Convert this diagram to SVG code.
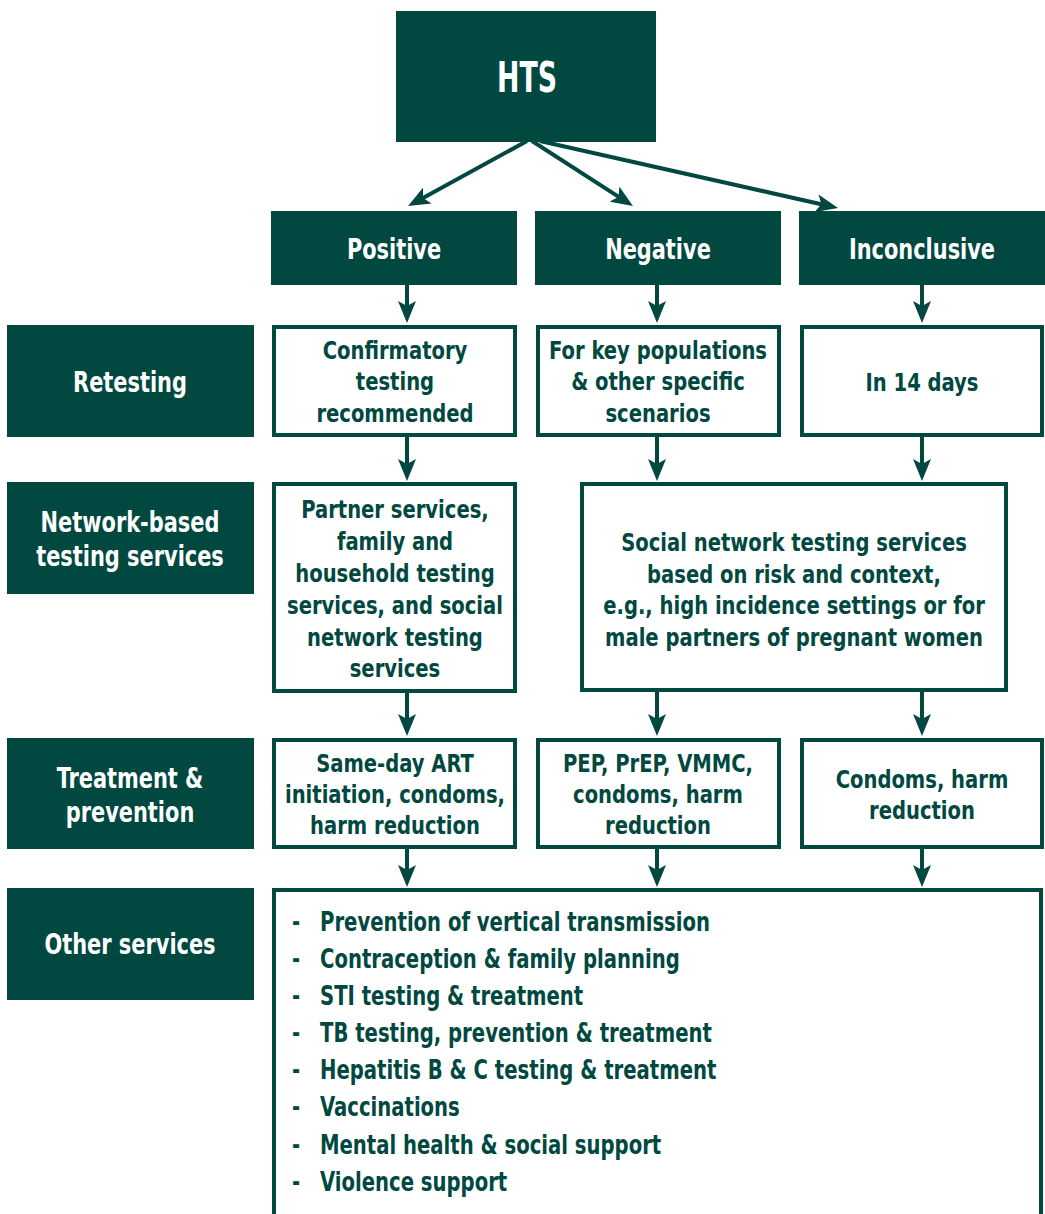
<svg xmlns="http://www.w3.org/2000/svg" width="1045" height="1214" viewBox="0 0 1045 1214">
<defs>
<style>
.d{fill:#004840}
.w{fill:#ffffff;stroke:#004840;stroke-width:4}
text{font-family:"DejaVu Sans Condensed","DejaVu Sans","Liberation Sans",sans-serif;font-stretch:condensed;font-weight:bold;font-size:25px;transform-box:fill-box;transform-origin:center;transform:scaleX(0.87)}
.tw{fill:#ffffff;text-anchor:middle}
.tg{fill:#004840;text-anchor:middle}
.hd{font-size:28px;transform:scaleX(0.83)}
.lb{font-size:28px;transform:scaleX(0.83)}
.hts{font-size:42px;transform:scaleX(0.71)}
.tl text{fill:#004840;font-size:26px;transform-origin:left center;transform:scaleX(0.84)}
.c{stroke:#004840;stroke-width:4;fill:none}
</style>
<marker id="av" markerWidth="22" markerHeight="18" refX="6" refY="9" orient="auto" markerUnits="userSpaceOnUse" viewBox="0 0 22 18"><path d="M0,0 L22,9 L0,18 L5,9 z" fill="#004840"/></marker>
</defs>
<rect width="1045" height="1214" fill="#ffffff"/>
<g id="connectors">
<line class="c" x1="527" y1="141" x2="422.1" y2="198.4" marker-end="url(#av)"/>
<line class="c" x1="532" y1="141" x2="619.5" y2="197.4" marker-end="url(#av)"/>
<line class="c" x1="540" y1="141" x2="822.4" y2="204.5" marker-end="url(#av)"/>
<line class="c" x1="407" y1="285" x2="407" y2="307" marker-end="url(#av)"/>
<line class="c" x1="657" y1="285" x2="657" y2="307" marker-end="url(#av)"/>
<line class="c" x1="922" y1="285" x2="922" y2="307" marker-end="url(#av)"/>
<line class="c" x1="407" y1="437" x2="407" y2="465" marker-end="url(#av)"/>
<line class="c" x1="657" y1="437" x2="657" y2="465" marker-end="url(#av)"/>
<line class="c" x1="922" y1="437" x2="922" y2="465" marker-end="url(#av)"/>
<line class="c" x1="407" y1="693" x2="407" y2="720" marker-end="url(#av)"/>
<line class="c" x1="657" y1="692" x2="657" y2="720" marker-end="url(#av)"/>
<line class="c" x1="922" y1="692" x2="922" y2="720" marker-end="url(#av)"/>
<line class="c" x1="407" y1="849" x2="407" y2="871" marker-end="url(#av)"/>
<line class="c" x1="657" y1="849" x2="657" y2="871" marker-end="url(#av)"/>
<line class="c" x1="922" y1="849" x2="922" y2="871" marker-end="url(#av)"/>
</g>
<g id="hts"><rect class="d" x="396" y="11" width="260" height="131"/><text class="tw hts" x="527" y="92">HTS</text></g>
<g id="positive"><rect class="d" x="271" y="211" width="246" height="74"/><text class="tw hd" x="394" y="259">Positive</text></g>
<g id="negative"><rect class="d" x="535" y="211" width="246" height="74"/><text class="tw hd" x="658" y="259">Negative</text></g>
<g id="inconclusive"><rect class="d" x="799" y="211" width="246" height="74"/><text class="tw hd" x="922" y="259">Inconclusive</text></g>

<g id="lbl-retesting"><rect class="d" x="7" y="325" width="247" height="112"/><text class="tw lb" x="130" y="392">Retesting</text></g>
<g id="lbl-network"><rect class="d" x="7" y="482" width="247" height="112"/><text class="tw lb" x="130" y="532">Network-based</text><text class="tw lb" x="130" y="566">testing services</text></g>
<g id="lbl-treatment"><rect class="d" x="7" y="738" width="247" height="111"/><text class="tw lb" x="130" y="788">Treatment &amp;</text><text class="tw lb" x="130" y="822">prevention</text></g>
<g id="lbl-other"><rect class="d" x="7" y="888" width="247" height="112"/><text class="tw lb" x="130" y="954">Other services</text></g>

<g id="confirmatory"><rect class="w" x="274" y="327" width="241" height="108"/>
<text class="tg" x="395" y="359">Confirmatory</text><text class="tg" x="395" y="390.5">testing</text><text class="tg" x="395" y="422">recommended</text></g>
<g id="keypop"><rect class="w" x="538" y="327" width="241" height="108"/>
<text class="tg" x="658" y="359">For key populations</text><text class="tg" x="658" y="390.5">&amp; other specific</text><text class="tg" x="658" y="422">scenarios</text></g>
<g id="days14"><rect class="w" x="802" y="327" width="240" height="108"/>
<text class="tg" x="922" y="391">In 14 days</text></g>

<g id="partner"><rect class="w" x="274" y="484" width="241" height="207"/>
<text class="tg" x="395" y="518">Partner services,</text><text class="tg" x="395" y="550">family and</text><text class="tg" x="395" y="582">household testing</text><text class="tg" x="395" y="614">services, and social</text><text class="tg" x="395" y="646">network testing</text><text class="tg" x="395" y="677">services</text></g>
<g id="social"><rect class="w" x="582" y="484" width="424" height="206"/>
<text class="tg" x="794" y="551">Social network testing services</text><text class="tg" x="794" y="583">based on risk and context,</text><text class="tg" x="794" y="614">e.g., high incidence settings or for</text><text class="tg" x="794" y="646">male partners of pregnant women</text></g>

<g id="sameday"><rect class="w" x="274" y="740" width="241" height="107"/>
<text class="tg" x="395" y="772">Same-day ART</text><text class="tg" x="395" y="803">initiation, condoms,</text><text class="tg" x="395" y="834">harm reduction</text></g>
<g id="pep"><rect class="w" x="538" y="740" width="241" height="107"/>
<text class="tg" x="658" y="772">PEP, PrEP, VMMC,</text><text class="tg" x="658" y="803">condoms, harm</text><text class="tg" x="658" y="834">reduction</text></g>
<g id="condoms"><rect class="w" x="802" y="740" width="240" height="107"/>
<text class="tg" x="922" y="788">Condoms, harm</text><text class="tg" x="922" y="819">reduction</text></g>

<g id="other"><rect class="w" x="274" y="890" width="767" height="330"/>
<g class="tl">
<text x="292" y="930.7">-</text><text x="320" y="930.7">Prevention of vertical transmission</text>
<text x="292" y="967.9">-</text><text x="320" y="967.9">Contraception &amp; family planning</text>
<text x="292" y="1005">-</text><text x="320" y="1005">STI testing &amp; treatment</text>
<text x="292" y="1042.2">-</text><text x="320" y="1042.2">TB testing, prevention &amp; treatment</text>
<text x="292" y="1079.3">-</text><text x="320" y="1079.3">Hepatitis B &amp; C testing &amp; treatment</text>
<text x="292" y="1116.5">-</text><text x="320" y="1116.5">Vaccinations</text>
<text x="292" y="1153.6">-</text><text x="320" y="1153.6">Mental health &amp; social support</text>
<text x="292" y="1190.8">-</text><text x="320" y="1190.8">Violence support</text>
</g></g>
</svg>
